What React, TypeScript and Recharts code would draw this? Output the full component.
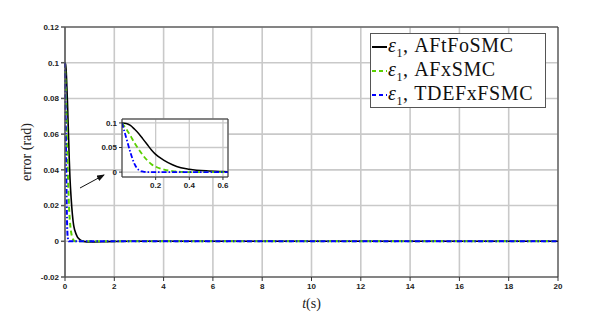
import React from "react";
import { LineChart, Line, XAxis, YAxis, CartesianGrid, Label } from "recharts";

// time samples (s) and the three error traces (rad)
const TIME = [0, 0.025, 0.05, 0.075, 0.1, 0.125, 0.15, 0.175, 0.2, 0.25, 0.3, 0.35, 0.4, 0.5, 0.6, 0.8, 1, 1.5, 2, 3, 5, 10, 15, 20];
const AFTFOSMC = [0.1, 0.099, 0.095, 0.087, 0.078, 0.067, 0.056, 0.045, 0.036, 0.024, 0.015, 0.009, 0.006, 0.0025, 0.001, -0.0002, -0.0004, -0.0003, -0.0001, 0, 0, 0, 0, 0];
const AFXSMC = [0.1, 0.088, 0.074, 0.059, 0.046, 0.034, 0.024, 0.016, 0.011, 0.005, 0.002, 0.0005, 0, 0, 0, 0, 0, 0, 0, 0, 0, 0, 0, 0];
const TDEFXFSMC = [0.1, 0.07, 0.04, 0.016, 0.004, 0.001, 0, 0, 0, 0, 0, 0, 0, 0, 0, 0, 0, 0, 0, 0, 0, 0, 0, 0];

const X_TICKS = [0, 2, 4, 6, 8, 10, 12, 14, 16, 18, 20];
const Y_TICKS = [-0.02, 0, 0.02, 0.04, 0.06, 0.08, 0.1, 0.12];
const INSET_X_TICKS = [0.2, 0.4, 0.6];
const INSET_Y_TICKS = [0, 0.05, 0.1];

const SERIES = [
  { key: "a", name: "AFtFoSMC", color: "#000000", dash: undefined as string | undefined },
  { key: "b", name: "AFxSMC", color: "#5ad000", dash: "5 3" },
  { key: "c", name: "TDEFxFSMC", color: "#0000ff", dash: "5 2 1.5 2" },
];

const rows = TIME.map((t, i) => ({ t, a: AFTFOSMC[i], b: AFXSMC[i], c: TDEFXFSMC[i] }));
const insetRows = rows.filter((r) => r.t <= 0.8);

const tickFont = { fontFamily: "Liberation Sans, Arial, sans-serif", fontSize: 8, fill: "#222", fontWeight: 600 };
const serif = "Liberation Serif, DejaVu Serif, serif";
const GRID = "#c9c9c9";

function LegendBox() {
  return (
    <div
      style={{
        position: "absolute",
        left: 370,
        top: 33,
        boxSizing: "border-box",
        width: 176,
        height: 75,
        border: "1px solid #555",
        background: "#fff",
        padding: "1px 0",
        fontFamily: serif,
        fontSize: 20,
        letterSpacing: 0.6,
        color: "#111",
      }}
    >
      {SERIES.map((s) => (
        <div key={s.key} style={{ display: "flex", alignItems: "center", height: 24, whiteSpace: "nowrap" }}>
          <svg width={15} height={10} style={{ marginLeft: 1, marginRight: 1 }}>
            <line x1={0} x2={15} y1={5} y2={5} stroke={s.color} strokeWidth={2} strokeDasharray={s.dash ? "4 3" : undefined} />
          </svg>
          <span>
            <i>ε</i>
            <sub style={{ fontSize: 12 }}>1</sub>, {s.name}
          </span>
        </div>
      ))}
    </div>
  );
}

export default function App() {
  return (
    <div style={{ position: "absolute", left: 0, top: 0, width: 594, height: 319, background: "#fff" }}>
      <LineChart width={594} height={319} data={rows} margin={{ top: 26, right: 35, bottom: 12, left: 25 }}>
        <CartesianGrid stroke={GRID} strokeWidth={1.6} />
        <XAxis
          dataKey="t"
          type="number"
          domain={[0, 20]}
          ticks={X_TICKS}
          interval={0}
          tick={tickFont}
          tickSize={4}
          height={30}
          stroke="#333"
        >
          <Label
            content={({ viewBox }: any) => (
              <text x={viewBox.x + viewBox.width / 2} y={viewBox.y + 31} textAnchor="middle" fontFamily={serif} fontSize={14} fill="#222">
                <tspan fontStyle="italic">t</tspan>
                <tspan>(s)</tspan>
              </text>
            )}
          />
        </XAxis>
        <XAxis xAxisId="top" dataKey="t" orientation="top" type="number" domain={[0, 20]} ticks={X_TICKS} interval={0} tick={false} tickSize={4} height={1} stroke="#333" />
        <YAxis
          type="number"
          domain={[-0.02, 0.12]}
          ticks={Y_TICKS}
          interval={0}
          tick={tickFont}
          tickSize={4}
          width={40}
          stroke="#555"
          strokeWidth={1.5}
        >
          <Label
            content={({ viewBox }: any) => (
              <text
                x={31}
                y={viewBox.y + viewBox.height / 2}
                transform={`rotate(-90 31 ${viewBox.y + viewBox.height / 2})`}
                textAnchor="middle"
                fontFamily={serif}
                fontSize={14}
                fill="#222"
              >
                error (rad)
              </text>
            )}
          />
        </YAxis>
        <YAxis yAxisId="right" orientation="right" type="number" domain={[-0.02, 0.12]} ticks={Y_TICKS} interval={0} tick={false} tickSize={4} width={1} stroke="#333" />
        {SERIES.map((s) => (
          <Line
            key={s.key}
            dataKey={s.key}
            name={s.name}
            type="monotone"
            stroke={s.color}
            strokeWidth={s.key === "a" ? 1.6 : 2}
            strokeDasharray={s.dash}
            dot={false}
            isAnimationActive={false}
          />
        ))}
      </LineChart>

      {/* white backing for the inset plot area */}
      <div style={{ position: "absolute", left: 122, top: 119, width: 106, height: 58, background: "#fff" }} />

      {/* zoomed inset */}
      <div style={{ position: "absolute", left: 92, top: 114 }}>
        <LineChart width={145} height={80} data={insetRows} margin={{ top: 4, right: 8, bottom: 0, left: 0 }}>
          <CartesianGrid stroke={GRID} strokeWidth={1.3} />
          <XAxis
            dataKey="t"
            type="number"
            domain={[0, 0.63]}
            allowDataOverflow
            ticks={INSET_X_TICKS}
            interval={0}
            tick={tickFont}
            tickSize={3}
            height={17}
            stroke="#333"
          />
          <XAxis xAxisId="top" dataKey="t" orientation="top" type="number" domain={[0, 0.63]} allowDataOverflow ticks={INSET_X_TICKS} interval={0} tick={false} tickSize={3} height={1} stroke="#333" />
          <YAxis
            type="number"
            domain={[-0.01, 0.108]}
            allowDataOverflow
            ticks={INSET_Y_TICKS}
            interval={0}
            tick={tickFont}
            tickSize={3}
            width={30}
            stroke="#333"
          />
          <YAxis yAxisId="right" orientation="right" type="number" domain={[-0.01, 0.108]} allowDataOverflow ticks={INSET_Y_TICKS} interval={0} tick={false} tickSize={3} width={1} stroke="#333" />
          {SERIES.map((s) => (
            <Line
              key={s.key}
              dataKey={s.key}
              type="monotone"
              stroke={s.color}
              strokeWidth={s.key === "a" ? 1.5 : 1.8}
              strokeDasharray={s.dash}
              dot={false}
              isAnimationActive={false}
            />
          ))}
        </LineChart>
      </div>

      <LegendBox />

      {/* arrow pointing at the zoomed region */}
      <svg width={594} height={319} style={{ position: "absolute", left: 0, top: 0, pointerEvents: "none" }}>
        <defs>
          <marker id="arr" markerWidth={8} markerHeight={6} refX={7} refY={3} orient="auto">
            <path d="M0,0 L8,3 L0,6 Z" fill="#111" />
          </marker>
        </defs>
        <line x1={80} y1={188} x2={104} y2={175} stroke="#111" strokeWidth={1} markerEnd="url(#arr)" />
      </svg>
    </div>
  );
}
